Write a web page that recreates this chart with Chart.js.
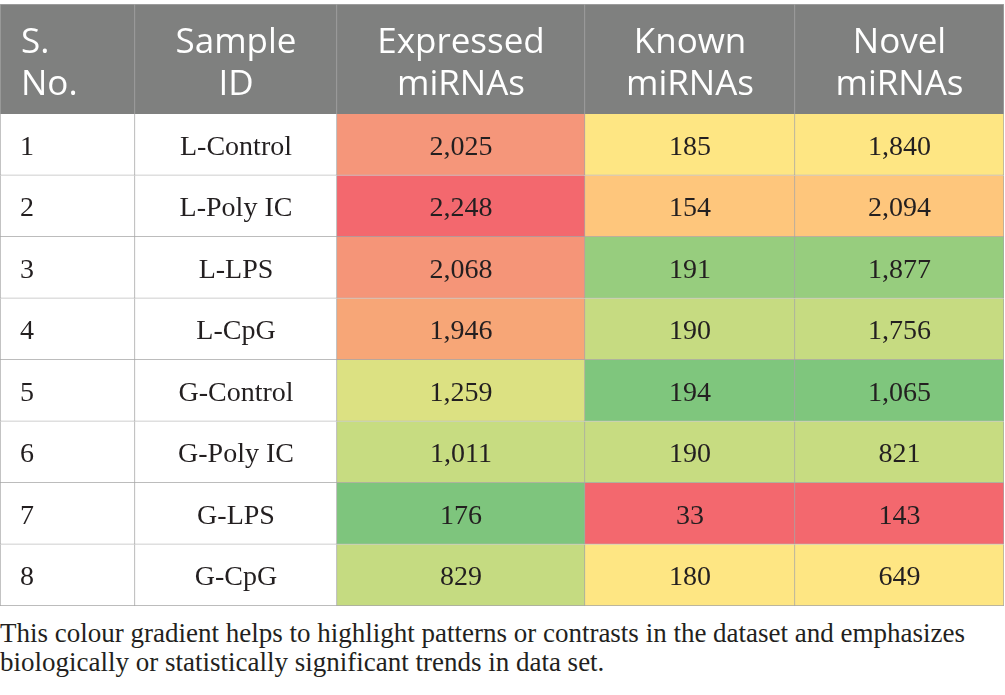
<!DOCTYPE html>
<html>
<head>
<meta charset="utf-8">
<script src="https://cdn.jsdelivr.net/npm/chart.js@4.4.1/dist/chart.umd.min.js"></script>
<style>
  html, body { margin: 0; padding: 0; background: #ffffff; }
  #wrap { position: relative; width: 1005px; height: 695px; overflow: hidden; }
  #head { position: absolute; left: 0; top: 0; }
  #body { position: absolute; left: 0; top: 114px; }
  #caption {
    position: absolute; left: 0; top: 619px; width: 1005px;
    font-family: "Liberation Serif", "DejaVu Serif", serif;
    font-size: 27px; line-height: 29px; color: #231f20;
  }
</style>
</head>
<body>
<div id="wrap">
  <canvas id="head" width="1005" height="114"></canvas>
  <canvas id="body" width="1005" height="492"></canvas>
  <div id="caption">This colour gradient helps to highlight patterns or contrasts in the dataset and emphasizes biologically or statistically significant trends in data set.</div>
</div>
<script>
// ---------- DATA ----------
const headerLines = [["S.", "No."], ["Sample", "ID"], ["Expressed", "miRNAs"], ["Known", "miRNAs"], ["Novel", "miRNAs"]];
const sampleNo = [1, 2, 3, 4, 5, 6, 7, 8];
const sampleIds = ["L-Control", "L-Poly IC", "L-LPS", "L-CpG", "G-Control", "G-Poly IC", "G-LPS", "G-CpG"];
const expressed = [2025, 2248, 2068, 1946, 1259, 1011, 176, 829];
const known = [185, 154, 191, 190, 194, 190, 33, 180];
const novel = [1840, 2094, 1877, 1756, 1065, 821, 143, 649];

// colour-scale fills as they appear in the table
const expressedColors = ["#F5967A", "#F3686E", "#F59578", "#F7A677", "#DCE182", "#C7DC81", "#7EC57D", "#C5DB81"];
const knownColors = ["#FEE683", "#FEC67C", "#97CD7E", "#C6DB81", "#7FC67D", "#C7DC81", "#F3686E", "#FEE683"];
const novelColors = ["#FEE683", "#FEC67C", "#97CD7E", "#C6DB81", "#7FC67D", "#C7DC81", "#F3686E", "#FEE683"];

// ---------- LAYOUT ----------
const colWidths = [135, 202, 248, 210, 209];
const totalWidth = colWidths.reduce((a, b) => a + b, 0);
const borderColor = "#A6A6A6";
const headerFill = "#7F807F";
const textColor = "#231F20";

const fmt = v => v.toLocaleString("en-US");
const bodyText = [sampleNo.map(String), sampleIds, expressed.map(fmt), known.map(fmt), novel.map(fmt)];
const bodyFills = [sampleNo.map(() => "#FFFFFF"), sampleIds.map(() => "#FFFFFF"), expressedColors, knownColors, novelColors];

function barGeom(bar) {
  const p = bar.getProps(["x", "y", "base", "height"], true);
  return { left: Math.min(p.x, p.base), right: Math.max(p.x, p.base), cy: p.y, h: p.height };
}

const cellTextPlugin = {
  id: "cellText",
  afterDatasetsDraw(chart) {
    const ctx = chart.ctx;
    const isHead = chart.options.plugins.cellText.header;
    ctx.save();
    chart.data.datasets.forEach((ds, di) => {
      chart.getDatasetMeta(di).data.forEach((bar, ri) => {
        const g = barGeom(bar);
        if (isHead) {
          ctx.fillStyle = "#FFFFFF";
          ctx.font = '35px "Open Sans", "DejaVu Sans", sans-serif';
          ctx.textBaseline = "alphabetic";
          const lines = headerLines[di];
          let x, align;
          if (di === 0) { x = g.left + 21; align = "left"; } else { x = (g.left + g.right) / 2; align = "center"; }
          ctx.textAlign = align;
          ctx.fillText(lines[0], x, g.cy - 6);
          ctx.fillText(lines[1], x, g.cy + 36);
        } else {
          ctx.fillStyle = textColor;
          ctx.font = '28px "Liberation Serif", "DejaVu Serif", serif';
          ctx.textBaseline = "alphabetic";
          const txt = bodyText[di][ri];
          if (di === 0) { ctx.textAlign = "left"; ctx.fillText(txt, g.left + 20, g.cy + 10); }
          else { ctx.textAlign = "center"; ctx.fillText(txt, (g.left + g.right) / 2, g.cy + 10); }
        }
      });
    });
    ctx.restore();
  }
};

function makeTable(canvasId, rowLabels, fills, isHead, padTop) {
  const datasets = colWidths.map((w, ci) => ({
    label: "col" + ci,
    data: rowLabels.map(() => w),
    backgroundColor: isHead ? headerFill : fills[ci],
    borderColor: borderColor,
    borderSkipped: false,
    borderWidth: c => ({
      left: c.datasetIndex === 0 ? 1 : 0,
      top: isHead ? 1 : 0,
      right: 1,
      bottom: isHead ? 0 : 1
    }),
    categoryPercentage: 1,
    barPercentage: 1
  }));
  return new Chart(document.getElementById(canvasId), {
    type: "bar",
    data: { labels: rowLabels, datasets },
    options: {
      indexAxis: "y",
      responsive: false,
      animation: false,
      devicePixelRatio: 1,
      layout: { padding: { top: padTop, right: 1, left: 0, bottom: 0 } },
      scales: {
        x: { stacked: true, min: 0, max: totalWidth, display: false },
        y: { stacked: true, display: false }
      },
      plugins: {
        legend: { display: false },
        tooltip: { enabled: false },
        cellText: { header: isHead }
      }
    },
    plugins: [cellTextPlugin]
  });
}

makeTable("head", ["header"], null, true, 4);
makeTable("body", sampleNo.map(String), bodyFills, false, 0);
</script>
</body>
</html>
